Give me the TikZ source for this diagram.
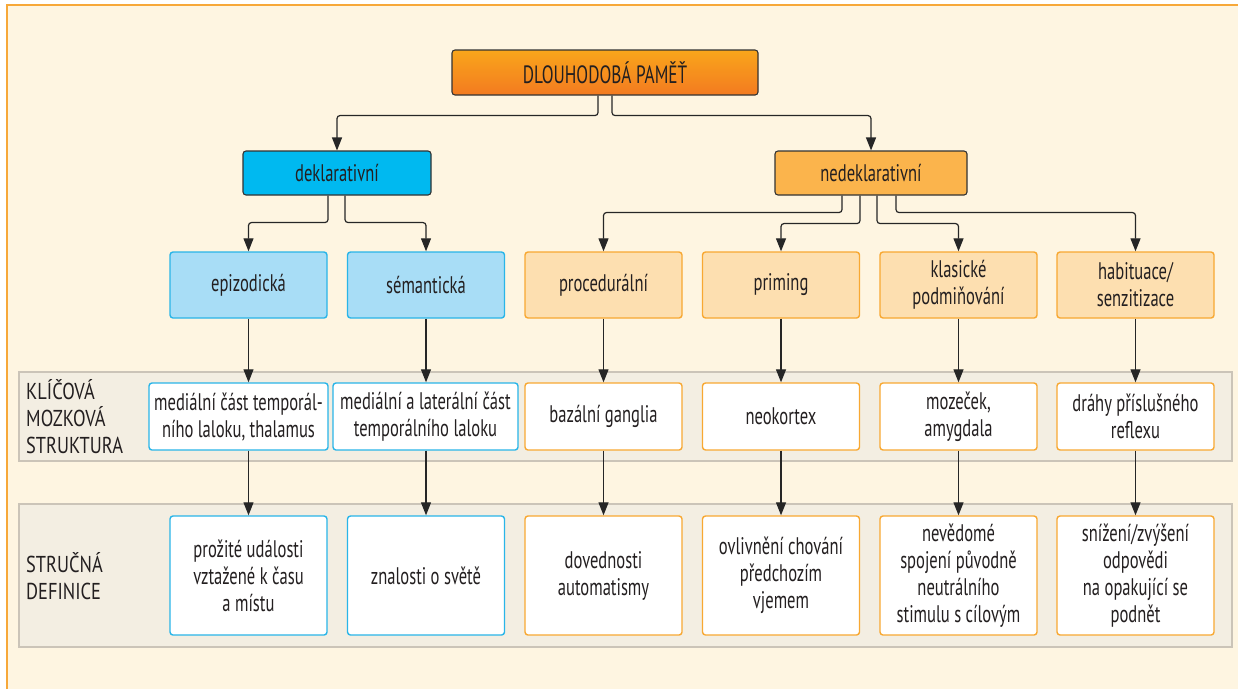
\documentclass[tikz,border=0pt]{standalone}
\usepackage{fontspec}
\setmainfont{PT Sans}[FakeStretch=0.69]
\newfontfamily\labfont{PT Sans}[FakeStretch=0.8]
\usetikzlibrary{arrows.meta}
\definecolor{cream}{HTML}{FEF5E1}
\definecolor{framec}{HTML}{F7A839}
\definecolor{bandfill}{HTML}{F3EEE2}
\definecolor{bandline}{HTML}{CBC4B8}
\definecolor{txt}{HTML}{231F20}
\definecolor{dekfill}{HTML}{00B9F0}
\definecolor{nedfill}{HTML}{FBB44C}
\definecolor{lblue}{HTML}{A8DDF6}
\definecolor{bblue}{HTML}{29B5E8}
\definecolor{lorange}{HTML}{FDDFB0}
\definecolor{borange}{HTML}{F8A832}
\definecolor{topA}{HTML}{F9A61B}
\definecolor{topB}{HTML}{F37A20}
\tikzset{
  base/.style={rectangle, rounded corners=3pt, align=center, text=txt, inner sep=2pt},
  mainbox/.style={base, draw=black!80, line width=1.1pt},
  lvbox/.style={base, line width=1.4pt, minimum width=157pt, minimum height=66pt},
  declbox/.style={lvbox, fill=lblue, draw=bblue},
  ndeclbox/.style={lvbox, fill=lorange, draw=borange},
  strbox/.style={base, fill=white, line width=1.4pt, minimum height=67pt},
  defbox/.style={base, fill=white, line width=1.4pt, minimum width=157pt, minimum height=119pt},
  conn/.style={draw=black!85, line width=1.2pt, rounded corners=3pt, -{Triangle[length=13pt,width=10pt]}},
  band/.style={fill=bandfill, draw=bandline, line width=1.2pt},
  rowlabel/.style={anchor=west, align=left, text=txt, inner sep=0pt, font=\labfont\fontsize{23}{27}\selectfont}
}
\begin{document}
\begin{tikzpicture}[x=1pt, y=1pt, font=\fontsize{24}{27}\selectfont]
\useasboundingbox (0,0) rectangle (1238,-689);
\fill[white] (0,0) rectangle (1238,-689);
\fill[cream] (7,-5) rectangle (1238,-689);
\draw[framec, line width=1.3pt] (7,-689) -- (7,-5) -- (1238,-5);
% bands
\draw[band] (19,-372) rectangle (1232,-461);
\draw[band] (19,-504) rectangle (1232,-647);
\node[rowlabel] (lab1) at (26,-417) {KLÍČOVÁ\\MOZKOVÁ\\STRUKTURA};
\node[rowlabel] (lab2) at (26,-576) {STRUČNÁ\\DEFINICE};
% top
\node[mainbox, shading=axis, top color=topA, bottom color=topB, shading angle=0, minimum width=306pt, minimum height=45pt, font=\fontsize{25}{27}\selectfont] (top) at (605,-72.5) {DLOUHODOBÁ PAMĚŤ};
% level 2
\node[mainbox, fill=dekfill, minimum width=188pt, minimum height=44pt] (dekl) at (337,-173) {deklarativní};
\node[mainbox, fill=nedfill, minimum width=192pt, minimum height=44pt] (nedekl) at (871,-173) {nedeklarativní};
% level 3
\node[declbox] (epi) at (248.5,-285) {epizodická};
\node[declbox] (sem) at (426,-285) {sémantická};
\node[ndeclbox] (proc) at (603.5,-285) {procedurální};
\node[ndeclbox] (prim) at (781,-285) {priming};
\node[ndeclbox] (klas) at (958.5,-285) {klasické\\podmiňování};
\node[ndeclbox] (hab) at (1135.5,-285) {habituace/\\senzitizace};
% structure row
\node[strbox, draw=bblue, minimum width=179pt] (s1) at (238.5,-416.5) {mediální část temporál-\\ního laloku, thalamus};
\node[strbox, draw=bblue, minimum width=185pt] (s2) at (425.5,-416.5) {mediální a laterální část\\temporálního laloku};
\node[strbox, draw=borange, minimum width=157pt] (s3) at (603.5,-416.5) {bazální ganglia};
\node[strbox, draw=borange, minimum width=157pt] (s4) at (781,-416.5) {neokortex};
\node[strbox, draw=borange, minimum width=157pt] (s5) at (958.5,-416.5) {mozeček,\\amygdala};
\node[strbox, draw=borange, minimum width=157pt] (s6) at (1135.5,-416.5) {dráhy příslušného\\reflexu};
% definition row
\node[defbox, draw=bblue] (d1) at (248.5,-575.5) {prožité události\\vztažené k času\\a místu};
\node[defbox, draw=bblue] (d2) at (426,-575.5) {znalosti o světě};
\node[defbox, draw=borange] (d3) at (603.5,-575.5) {dovednosti\\automatismy};
\node[defbox, draw=borange] (d4) at (781,-575.5) {ovlivnění chování\\předchozím\\vjemem};
\node[defbox, draw=borange] (d5) at (958.5,-575.5) {nevědomé\\spojení původně\\neutrálního\\stimulu s cílovým};
\node[defbox, draw=borange] (d6) at (1135.5,-575.5) {snížení/zvýšení\\odpovědi\\na opakující se\\podnět};
% connectors
\draw[conn] ([xshift=-7pt]top.south) -- ++(0,-20) -| (dekl.north);
\draw[conn] ([xshift=7pt]top.south) -- ++(0,-20) -| (nedekl.north);
\draw[conn] ([xshift=-9pt]dekl.south) -- ++(0,-27) -| (epi.north);
\draw[conn] ([xshift=8pt]dekl.south) -- ++(0,-27) -| (sem.north);
\draw[conn] ([xshift=-29pt]nedekl.south) -- ++(0,-17) -| (proc.north);
\draw[conn] ([xshift=-11pt]nedekl.south) -- ++(0,-28) -| (prim.north);
\draw[conn] ([xshift=6pt]nedekl.south) -- ++(0,-28) -| (klas.north);
\draw[conn] ([xshift=25pt]nedekl.south) -- ++(0,-17) -| (hab.north);
\draw[conn] (epi.south) -- (epi.south |- s1.north);
\draw[conn] (sem.south) -- (sem.south |- s2.north);
\draw[conn] (proc.south) -- (s3.north);
\draw[conn] (prim.south) -- (s4.north);
\draw[conn] (klas.south) -- (s5.north);
\draw[conn] (hab.south) -- (s6.north);
\draw[conn] (epi.south |- s1.south) -- (d1.north);
\draw[conn] (sem.south |- s2.south) -- (d2.north);
\draw[conn] (s3.south) -- (d3.north);
\draw[conn] (s4.south) -- (d4.north);
\draw[conn] (s5.south) -- (d5.north);
\draw[conn] (s6.south) -- (d6.north);
\end{tikzpicture}
\end{document}
